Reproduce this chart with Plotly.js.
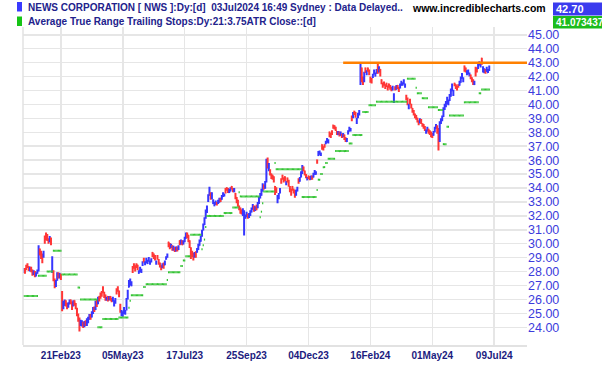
<!DOCTYPE html>
<html><head><meta charset="utf-8">
<script src="https://cdn.plot.ly/plotly-3.0.1.min.js"></script>
<style>html,body{margin:0;padding:0;background:#fff;}#chart{width:602px;height:365px;}</style>
</head><body><div id="chart"></div>
<script>
// Daily bars, NWS (ASX), 09 Jan 2023 .. 03 Jul 2024 (trading-day index 0..376)
const opens = [
28.00,28.15,28.40,28.50,28.30,28.10,28.30,28.10,27.85,28.00,
27.70,27.90,28.10,29.60,29.40,29.20,29.10,30.50,30.70,30.60,
30.30,30.20,30.40,28.00,28.00,27.40,27.00,27.40,27.85,27.60,
27.80,26.50,25.40,25.60,25.90,25.70,25.50,25.70,25.95,25.80,
25.60,25.90,25.70,25.30,24.90,24.60,24.20,24.20,24.30,24.10,
24.40,24.20,24.40,24.60,24.85,24.75,25.00,25.40,25.30,25.90,
25.70,26.20,26.40,26.50,26.85,26.50,26.30,26.00,26.20,26.00,
26.20,26.05,25.90,25.60,25.80,26.70,26.85,26.60,25.60,24.95,
24.85,25.05,25.00,25.30,26.10,26.90,27.10,27.00,28.30,28.50,
28.40,28.50,28.45,27.90,28.05,28.00,28.50,28.90,28.55,28.70,
28.60,28.80,28.60,28.75,29.35,29.25,29.10,28.60,29.10,28.80,
28.60,28.40,28.30,28.55,28.50,28.90,29.05,30.10,30.00,29.80,
29.85,29.60,29.70,29.50,29.75,29.60,30.20,30.00,30.20,30.00,
30.20,30.40,30.75,30.60,30.20,29.70,29.40,29.30,29.10,29.40,
29.40,29.60,29.90,30.20,30.60,31.00,31.40,31.90,32.30,33.10,
33.50,33.60,33.30,32.90,32.75,32.85,32.95,32.90,33.00,33.25,
33.20,33.40,33.45,33.90,34.00,33.95,33.70,33.80,34.10,33.95,
33.75,33.60,33.30,33.10,32.70,32.55,32.40,32.10,31.00,31.85,
32.00,32.10,31.90,32.10,32.30,32.50,32.70,32.40,32.75,32.60,
32.90,33.30,33.50,33.80,34.20,34.00,34.50,36.00,35.30,35.30,
35.00,34.90,34.80,34.10,33.95,33.00,33.30,33.70,34.60,34.90,
34.70,34.80,34.30,34.70,34.50,34.10,33.90,34.10,33.90,33.80,
33.50,33.80,34.60,34.50,34.80,35.10,35.50,35.20,34.95,34.60,
34.85,34.80,34.65,34.85,34.80,35.00,35.00,36.00,36.35,36.45,
36.40,37.10,36.95,37.10,37.20,37.30,37.30,38.00,37.90,38.05,
38.50,38.45,38.35,38.05,37.85,38.00,37.80,37.85,37.70,37.80,
37.60,37.35,37.90,38.10,38.15,39.10,39.10,39.50,39.40,38.80,
39.10,39.30,41.50,42.60,41.90,41.70,42.60,42.20,42.60,42.45,
41.90,41.80,41.95,42.20,42.05,42.25,42.90,42.40,42.50,41.75,
41.50,41.55,41.40,41.50,41.30,41.45,41.35,41.20,41.10,40.30,
41.20,41.10,41.35,41.20,41.20,41.40,41.45,41.50,41.30,40.60,
40.40,39.80,40.30,40.00,39.70,39.50,39.30,39.20,39.00,38.80,
38.70,38.90,38.60,38.55,38.40,38.00,38.10,38.20,38.10,38.00,
37.90,37.80,38.05,38.30,38.40,38.20,37.40,38.70,38.90,39.20,
39.70,39.90,40.10,40.05,40.30,40.60,41.00,40.70,41.50,41.40,
41.30,41.40,41.40,41.60,41.90,41.70,42.75,42.60,42.20,42.25,
42.10,42.10,41.90,41.75,41.45,42.60,42.60,42.60,42.85,42.75,
43.30,42.40,42.30,42.45,42.40,42.30,42.50];
const highs = [
28.25,28.25,28.50,28.60,28.40,28.35,28.35,28.15,28.10,28.05,
27.95,28.15,29.90,29.65,29.50,29.30,29.50,30.60,30.80,30.70,
30.40,30.55,30.45,29.10,28.10,27.50,27.40,27.95,27.95,27.90,
27.85,26.60,25.90,26.00,25.95,25.75,25.80,26.00,26.00,25.85,
25.95,25.95,25.75,25.40,25.00,24.70,24.55,24.50,24.40,24.45,
24.50,24.65,24.75,24.95,24.95,25.15,25.45,25.50,25.90,26.00,
26.20,26.25,26.50,26.60,26.95,26.55,26.35,26.20,26.25,26.25,
26.25,26.10,26.20,25.95,26.10,26.80,26.95,26.65,25.70,25.25,
25.15,25.45,25.25,26.10,26.70,27.40,27.50,27.30,28.40,28.60,
28.45,28.60,28.50,28.10,28.35,28.20,28.75,29.00,28.75,29.00,
28.85,29.05,28.80,28.95,29.40,29.30,29.20,28.80,29.20,28.90,
28.65,28.45,28.60,28.65,28.80,29.10,29.30,30.15,30.05,30.00,
29.90,29.85,29.75,29.80,29.80,29.90,30.25,30.30,30.25,30.25,
30.50,30.80,30.80,30.65,30.25,29.75,29.50,29.35,29.40,29.45,
29.70,30.00,30.30,30.60,31.00,31.45,31.90,32.45,32.75,33.55,
34.10,33.70,33.70,33.20,33.00,33.10,33.00,33.15,33.30,33.30,
33.50,33.70,33.60,34.00,34.05,34.00,33.95,34.05,34.15,34.00,
34.00,33.65,33.35,33.15,32.75,32.60,32.45,32.55,32.40,32.10,
32.30,32.15,32.20,32.40,32.60,32.85,32.75,32.70,32.80,33.00,
33.40,33.65,33.95,34.35,34.25,34.50,36.10,36.20,35.80,35.35,
35.05,34.95,34.85,34.15,34.05,33.50,33.65,34.00,34.70,34.95,
34.75,34.85,34.50,34.75,34.60,34.15,33.95,34.15,33.95,33.85,
33.90,34.10,34.70,34.80,35.20,35.65,35.55,35.25,35.00,34.80,
34.90,34.85,34.90,34.90,35.10,35.30,35.20,36.05,36.65,36.70,
36.55,37.15,37.00,37.15,37.40,37.60,37.50,38.05,37.95,38.15,
38.55,38.50,38.40,38.10,38.10,38.05,38.05,37.90,37.95,37.85,
37.65,37.60,38.15,38.40,38.30,39.20,39.45,39.55,39.45,39.05,
39.40,39.60,43.00,42.65,42.00,42.35,42.65,42.45,42.65,42.50,
42.00,41.90,42.20,42.50,42.30,42.55,43.00,42.75,42.55,41.80,
41.55,41.65,41.45,41.55,41.35,41.50,41.40,41.25,41.35,40.80,
41.30,41.40,41.40,41.25,41.50,41.70,41.60,41.80,41.50,40.70,
40.50,40.05,40.40,40.05,39.75,39.60,39.35,39.25,39.05,38.85,
39.00,38.95,38.65,38.60,38.45,38.20,38.40,38.25,38.15,38.05,
37.95,38.10,38.40,38.60,38.50,38.30,38.80,39.00,39.20,39.80,
40.05,40.25,40.55,40.35,40.75,41.15,41.50,41.05,41.55,41.45,
41.35,41.45,41.70,42.00,42.25,41.95,42.80,42.65,42.45,42.50,
42.30,42.15,41.95,41.80,41.70,42.70,42.65,43.00,43.10,42.95,
43.35,42.75,42.60,42.55,42.70,42.55,42.80];
const lows = [
27.90,27.85,28.10,28.25,28.05,28.00,27.95,27.70,27.75,27.60,
27.65,27.85,28.00,29.15,28.90,28.60,29.00,30.00,30.25,30.20,
30.00,30.10,29.90,27.90,27.30,26.80,26.90,27.35,27.50,27.50,
27.40,25.15,25.30,25.55,25.50,25.30,25.40,25.65,25.65,25.25,
25.50,25.55,25.30,24.80,24.40,23.70,24.10,24.05,23.95,24.00,
24.10,24.10,24.30,24.55,24.55,24.70,24.95,25.10,25.25,25.45,
25.65,25.85,26.05,26.20,26.45,26.10,25.90,25.90,25.85,25.95,
25.90,25.80,25.85,25.50,25.70,26.35,26.55,26.15,25.05,24.80,
24.75,24.95,24.90,25.20,26.00,26.85,27.00,26.95,27.90,28.20,
28.00,28.25,28.10,27.85,27.95,27.90,28.40,28.65,28.45,28.60,
28.55,28.70,28.50,28.65,29.05,28.90,28.80,28.50,28.85,28.50,
28.30,28.10,28.25,28.20,28.45,28.85,29.00,29.75,29.60,29.70,
29.50,29.50,29.40,29.45,29.45,29.55,29.90,29.95,29.90,29.95,
30.10,30.35,30.40,30.10,29.70,28.90,29.05,28.80,29.00,29.00,
29.35,29.55,29.85,30.15,30.50,30.95,31.35,31.80,32.20,33.00,
33.45,33.15,33.20,32.85,32.70,32.80,32.75,32.85,32.95,33.00,
33.15,33.35,33.40,33.60,33.80,33.65,33.65,33.75,33.90,33.70,
33.70,33.20,32.90,32.65,32.40,32.15,32.10,32.00,30.60,31.80,
31.90,31.80,31.85,32.00,32.25,32.45,32.30,32.35,32.40,32.55,
32.85,33.25,33.45,33.75,33.90,33.95,34.40,35.40,35.20,34.90,
34.65,34.60,34.40,33.50,33.65,32.90,33.20,33.60,34.30,34.60,
34.40,34.50,34.20,34.40,34.10,33.70,33.45,33.80,33.60,33.30,
33.45,33.75,34.30,34.45,34.75,35.00,35.20,34.90,34.70,34.55,
34.65,34.55,34.60,34.60,34.75,34.95,34.95,35.75,36.30,36.40,
36.30,36.75,36.70,36.90,37.15,37.25,37.20,37.65,37.60,37.80,
38.25,38.20,38.10,37.80,37.80,37.70,37.75,37.60,37.65,37.45,
37.30,37.30,37.85,38.05,38.05,38.80,39.00,39.25,39.05,38.60,
39.00,39.20,41.40,41.60,41.40,41.60,42.25,42.10,42.35,42.10,
41.55,41.50,41.90,42.15,42.00,42.20,42.20,42.30,42.00,41.45,
41.20,41.35,41.10,41.25,41.00,41.20,41.05,40.95,41.00,40.10,
41.00,41.05,41.10,40.90,41.15,41.35,41.35,41.45,41.20,40.30,
39.95,39.65,40.00,39.70,39.40,39.20,39.00,38.90,38.70,38.50,
38.65,38.60,38.40,38.25,38.10,37.90,38.05,37.90,37.80,37.65,
37.60,37.75,38.00,38.25,37.90,36.70,37.30,38.60,38.80,39.10,
39.60,39.80,40.00,39.95,40.25,40.55,40.95,40.60,41.30,41.10,
41.00,41.20,41.35,41.55,41.85,41.60,42.35,42.30,42.10,42.15,
42.00,41.80,41.60,41.40,41.40,42.00,42.30,42.55,42.80,42.65,
42.85,42.30,42.25,42.20,42.35,42.25,42.40];
const closes = [
28.10,27.95,28.20,28.35,28.15,28.25,28.05,27.90,28.00,27.75,
27.85,28.05,29.75,29.30,29.10,29.00,29.35,30.30,30.40,30.30,
30.10,30.45,30.00,28.90,27.40,26.95,27.30,27.80,27.60,27.85,
27.55,25.40,25.70,25.80,25.60,25.45,25.70,25.90,25.75,25.55,
25.85,25.65,25.40,24.90,24.50,24.20,24.40,24.30,24.05,24.35,
24.20,24.50,24.60,24.80,24.70,25.00,25.30,25.20,25.80,25.60,
26.10,25.95,26.20,26.30,26.60,26.20,26.00,26.10,25.95,26.15,
26.00,25.90,26.10,25.80,26.00,26.50,26.70,26.30,25.20,25.10,
25.00,25.30,25.15,26.00,26.60,27.30,27.40,27.20,28.00,28.30,
28.10,28.40,28.20,28.00,28.25,28.10,28.60,28.80,28.65,28.90,
28.75,28.95,28.70,28.85,29.20,29.00,28.90,28.70,28.95,28.60,
28.40,28.20,28.50,28.30,28.70,29.00,29.20,29.90,29.70,29.90,
29.60,29.75,29.50,29.70,29.55,29.80,30.00,30.20,29.95,30.15,
30.40,30.70,30.50,30.20,29.80,29.00,29.20,29.00,29.30,29.10,
29.60,29.90,30.20,30.50,30.90,31.30,31.80,32.30,32.60,33.40,
33.90,33.25,33.60,33.10,32.90,33.00,32.85,33.05,33.20,33.10,
33.40,33.60,33.50,33.70,33.90,33.75,33.85,33.95,34.00,33.80,
33.90,33.30,33.00,32.80,32.50,32.30,32.20,32.40,32.20,32.00,
32.20,31.90,32.10,32.30,32.50,32.70,32.40,32.60,32.50,32.90,
33.30,33.50,33.80,34.20,34.00,34.40,35.90,35.50,35.60,35.00,
34.80,34.70,34.50,33.60,33.80,33.40,33.50,33.90,34.40,34.70,
34.50,34.60,34.40,34.50,34.20,33.80,33.60,33.90,33.70,33.50,
33.80,34.00,34.40,34.70,35.10,35.50,35.30,35.00,34.80,34.70,
34.75,34.65,34.80,34.70,35.00,35.20,35.10,35.85,36.50,36.60,
36.45,36.90,36.80,37.00,37.30,37.50,37.40,37.80,37.70,37.90,
38.40,38.30,38.20,37.90,38.00,37.80,37.95,37.70,37.85,37.60,
37.40,37.50,38.00,38.30,38.20,38.90,39.30,39.40,39.20,38.90,
39.30,39.50,42.70,41.80,41.60,42.20,42.40,42.30,42.50,42.20,
41.70,41.60,42.10,42.40,42.20,42.45,42.30,42.60,42.10,41.60,
41.30,41.45,41.20,41.35,41.10,41.30,41.15,41.05,41.25,40.60,
41.10,41.30,41.20,41.00,41.40,41.60,41.50,41.70,41.40,40.40,
40.10,39.90,40.10,39.80,39.50,39.30,39.10,39.00,38.80,38.60,
38.90,38.70,38.50,38.35,38.20,38.10,38.30,38.00,37.90,37.80,
37.70,38.00,38.30,38.50,38.00,37.20,38.70,38.90,39.10,39.70,
39.90,40.10,40.40,40.20,40.60,41.00,41.30,40.90,41.40,41.20,
41.10,41.30,41.60,41.90,42.10,41.80,42.50,42.40,42.30,42.40,
42.20,41.90,41.70,41.50,41.60,42.10,42.40,42.90,43.00,42.85,
42.95,42.60,42.50,42.30,42.60,42.45,42.70];

// ATR trailing stop: [first bar of the level, stop level]
const stopRuns = [
[0,26.25],[12,27.7],[19,28.0],[24,29.5],[31,27.8],[44,26.85],[46,26.0],[60,24.0],[64,24.6],[77,24.7],
[85,25.4],[86,25.9],[87,26.3],[97,26.9],[99,27.1],[116,27.4],[117,27.95],[127,28.4],[129,28.8],[131,29.1],
[135,30.65],[144,29.6],[145,29.9],[146,30.3],[147,31.2],[148,32.0],[162,32.2],[169,32.6],[174,33.7],[175,33.4],
[191,31.9],[192,32.3],[193,32.9],[194,33.75],[203,35.8],[204,35.35],[225,33.35],[237,33.85],[238,34.6],[240,35.0],
[242,35.5],[244,35.8],[246,36.1],[252,36.65],[263,37.2],[266,37.8],[274,39.45],[279,39.95],[285,40.2],[310,41.85],
[317,41.2],[318,40.8],[322,40.45],[327,39.8],[335,39.6],[339,37.15],[342,38.4],[344,39.2],[356,40.15],[368,40.8],
[370,41.073437]];

const tickBars = [30,80,130,180,230,280,330,380];
const tickLabels = ['21Feb23','05May23','17Jul23','25Sep23','04Dec23','16Feb24','01May24','09Jul24'];
const priceTicks = [24,25,26,27,28,29,30,31,32,33,34,35,36,37,38,39,40,41,42,43,44,45];
const resistanceLevel = 43.00;
const resistanceStartBar = 258;
const lastClose = '42.70';
const lastStop = '41.073437';
const titleLine1 = 'NEWS CORPORATION [ NWS ]:Dy:[d]  03Jul2024 16:49 Sydney : Data Delayed..';
const titleLine2 = 'Average True Range Trailing Stops:Dy:21:3.75ATR Close::[d]';
const siteText = 'www.incrediblecharts.com';

const xRange = [-0.6, 406.5];
const yRange = [22.73, 45.56];
const FONT = 'Arial, "Liberation Sans", sans-serif';

const barIdx = closes.map((_, i) => i);

const stopX = [], stopY = [];
for (let r = 0; r < stopRuns.length; r++) {
  const start = stopRuns[r][0];
  const end = r + 1 < stopRuns.length ? stopRuns[r + 1][0] : closes.length;
  for (let i = start; i < end; i++) {
    stopX.push(i - 0.5, i + 0.5, null);
    stopY.push(stopRuns[r][1], stopRuns[r][1], null);
  }
}

const traces = [
  {type:'scatter', mode:'lines', x:stopX, y:stopY, connectgaps:false,
   line:{color:'#33c433', width:2}, hoverinfo:'skip'},
  {type:'ohlc', x:barIdx, open:opens, high:highs, low:lows, close:closes,
   increasing:{line:{color:'#3636ff', width:2}},
   decreasing:{line:{color:'#ff3636', width:2}},
   tickwidth:0.5, hoverinfo:'skip'},
  {type:'scatter', mode:'lines', x:[resistanceStartBar, xRange[1]], y:[resistanceLevel, resistanceLevel],
   line:{color:'#ff8000', width:2.5}, hoverinfo:'skip'}
];

// paper coords helpers (plot area: x 23..527 px, y 27..345 px)
const px = v => (v - 23) / 504;
const py = v => (345 - v) / 318;

const layout = {
  width:602, height:365,
  margin:{l:23, r:75, t:27, b:20, pad:0},
  paper_bgcolor:'#ffffff', plot_bgcolor:'#ffffff',
  showlegend:false,
  xaxis:{range:xRange, tickmode:'array', tickvals:tickBars, ticktext:tickLabels,
    showgrid:true, gridcolor:'#e6e6e6', gridwidth:1.5, zeroline:false,
    showline:true, linecolor:'#e2e2e2', linewidth:1.5, ticks:'',
    tickfont:{family:FONT, size:10, color:'#1c1c80', weight:'bold'},
    rangeslider:{visible:false}, fixedrange:true},
  yaxis:{range:yRange, side:'right', tickmode:'array', tickvals:priceTicks, tickformat:'.2f',
    showgrid:true, gridcolor:'#e6e6e6', gridwidth:1.5, zeroline:false, ticks:'',
    tickfont:{family:FONT, size:12.5, color:'#3c3cdc'}, fixedrange:true},
  shapes:[
    {type:'line', xref:'paper', yref:'paper', x0:0, x1:0, y0:0, y1:1, line:{color:'#e2e2e2', width:1.5}},
    {type:'rect', xref:'paper', yref:'paper', x0:px(17), x1:px(22), y0:py(11.5), y1:py(2), fillcolor:'#3a3aff', line:{width:0}},
    {type:'rect', xref:'paper', yref:'paper', x0:px(17), x1:px(22), y0:py(26), y1:py(16.5), fillcolor:'#16c416', line:{width:0}},
    {type:'rect', xref:'paper', yref:'paper', x0:px(553), x1:px(602), y0:py(15.5), y1:py(2.5), fillcolor:'#3a3aee', line:{width:0}},
    {type:'rect', xref:'paper', yref:'paper', x0:px(553), x1:px(602), y0:py(28.5), y1:py(16), fillcolor:'#1cbc1c', line:{width:0}}
  ],
  annotations:[
    {xref:'paper', yref:'paper', x:px(26), y:py(7), xanchor:'left', yanchor:'middle', showarrow:false,
     text:titleLine1, font:{family:FONT, size:10, color:'#22228c', weight:'bold'}},
    {xref:'paper', yref:'paper', x:px(26), y:py(21), xanchor:'left', yanchor:'middle', showarrow:false,
     text:titleLine2, font:{family:FONT, size:10, color:'#22228c', weight:'bold'}},
    {xref:'paper', yref:'paper', x:px(410), y:py(8), xanchor:'left', yanchor:'middle', showarrow:false,
     text:siteText, font:{family:FONT, size:10.5, color:'#000000', weight:'bold'}},
    {xref:'paper', yref:'paper', x:px(554), y:py(9), xanchor:'left', yanchor:'middle', showarrow:false,
     text:lastClose, font:{family:FONT, size:11, color:'#ffffff', weight:'bold'}},
    {xref:'paper', yref:'paper', x:px(554), y:py(22.5), xanchor:'left', yanchor:'middle', showarrow:false,
     text:lastStop, font:{family:FONT, size:10, color:'#ffffff', weight:'bold'}}
  ]
};

Plotly.newPlot('chart', traces, layout, {staticPlot:true, displayModeBar:false});
</script>
</body></html>
